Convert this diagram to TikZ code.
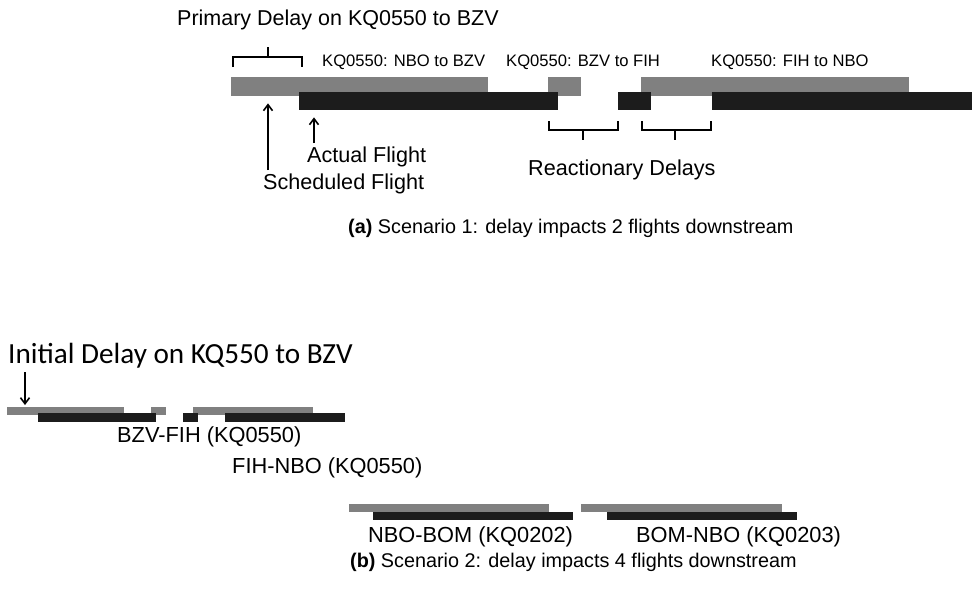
\documentclass[tikz,border=0pt]{standalone}
\usepackage{fontspec}
\setmainfont{Liberation Sans}
\newfontfamily\calib{Carlito}
\usetikzlibrary{arrows.meta}
\definecolor{gbarc}{HTML}{808080}
\definecolor{bbarc}{HTML}{1C1C1C}
\tikzset{
  gbar/.style={fill=gbarc, draw=none, inner sep=0pt, anchor=north west},
  bbar/.style={fill=bbarc, draw=none, inner sep=0pt, anchor=north west},
  lbl/.style={inner sep=0pt, anchor=west, text=black},
  brk/.style={line width=1.8pt, black},
  arr/.style={line width=1.6pt, -{Straight Barb[length=6pt,width=9pt,line width=1.6pt]}},
}
\newcommand{\gb}[5]{\node[gbar, minimum width=#4pt-#2pt, minimum height=#5pt-#3pt] (#1) at (#2,#3) {};}
\newcommand{\bb}[5]{\node[bbar, minimum width=#4pt-#2pt, minimum height=#5pt-#3pt] (#1) at (#2,#3) {};}
\begin{document}
\begin{tikzpicture}[x=1pt,y=-1pt]
\useasboundingbox (0,0) rectangle (972,590);
% ---------- part (a) ----------
\node[lbl, font=\fontsize{21.5}{23}\selectfont] (prim) at (177,20) {Primary Delay on KQ0550 to BZV};
\draw[brk] (233,67) -- (233,57) -- (302,57) -- (302,67);
\coordinate (pm) at (268,57);
\draw[brk] (pm) -- ++(0,-10);

\node[lbl, font=\fontsize{16.6}{18}\selectfont] (l1) at (322,62) {KQ0550: NBO to BZV};
\node[lbl, font=\fontsize{16.6}{18}\selectfont] (l2) at (506,62) {KQ0550: BZV to FIH};
\node[lbl, font=\fontsize{16.6}{18}\selectfont] (l3) at (711,62) {KQ0550: FIH to NBO};

\gb{g1}{231}{77}{488}{96}
\gb{g2}{548}{77}{581}{96}
\gb{g3}{641}{77}{909}{96}
\bb{b1}{299}{92}{558}{110}
\bb{b2}{618}{92}{651}{110}
\bb{b3}{712}{92}{972}{110}

\draw[brk] (549,121) -- (549,130) -- (618,130) -- (618,121);
\draw[brk] (583,130) -- (583,140);
\draw[brk] (642,121) -- (642,130) -- (711,130) -- (711,121);
\draw[brk] (675,130) -- (675,140);

\node[lbl, font=\fontsize{21.6}{23}\selectfont] (act) at (307,157) {Actual Flight};
\node[lbl, font=\fontsize{21.6}{23}\selectfont] (sch) at (263,184) {Scheduled Flight};
\node[lbl, font=\fontsize{21.6}{23}\selectfont] (rea) at (528,170) {Reactionary Delays};
\coordinate (s0) at (268,170);
\coordinate (a0) at (314,143);
\draw[arr] (s0) -- ([yshift=-7pt]s0 |- g1.south);
\draw[arr] (a0) -- ([yshift=-7pt]a0 |- b1.south);

\node[lbl, font=\fontsize{19.8}{21}\selectfont] (capa) at (348,228) {\textbf{(a)} Scenario 1: delay impacts 2 flights downstream};

% ---------- part (b) ----------
\node[lbl, font=\calib\fontsize{29.2}{32}\selectfont] (init) at (8,356) {Initial Delay on KQ550 to BZV};
\coordinate (i0) at (25,372);
\draw[arr] (i0) -- (25,405);

\gb{h1}{7}{407}{124}{415}
\gb{h2}{151}{407}{166}{415}
\gb{h3}{193}{407}{313}{415}
\bb{k1}{38}{413}{156}{422}
\bb{k2}{183}{413}{198}{422}
\bb{k3}{225}{413}{345}{422}

\node[lbl, font=\fontsize{21.8}{23}\selectfont] (bf) at (117,437) {BZV-FIH (KQ0550)};
\node[lbl, font=\fontsize{21.8}{23}\selectfont] (fn) at (232,468) {FIH-NBO (KQ0550)};

\gb{h4}{349}{504}{549}{512}
\gb{h5}{581}{504}{782}{512}
\bb{k4}{373}{512}{573}{520}
\bb{k5}{607}{512}{797}{520}

\node[lbl, font=\fontsize{21.8}{23}\selectfont] (nb) at (368,537) {NBO-BOM (KQ0202)};
\node[lbl, font=\fontsize{21.8}{23}\selectfont] (bn) at (636,537) {BOM-NBO (KQ0203)};

\node[lbl, font=\fontsize{19.8}{21}\selectfont] (capb) at (350,562) {\textbf{(b)} Scenario 2: delay impacts 4 flights downstream};
\end{tikzpicture}
\end{document}
